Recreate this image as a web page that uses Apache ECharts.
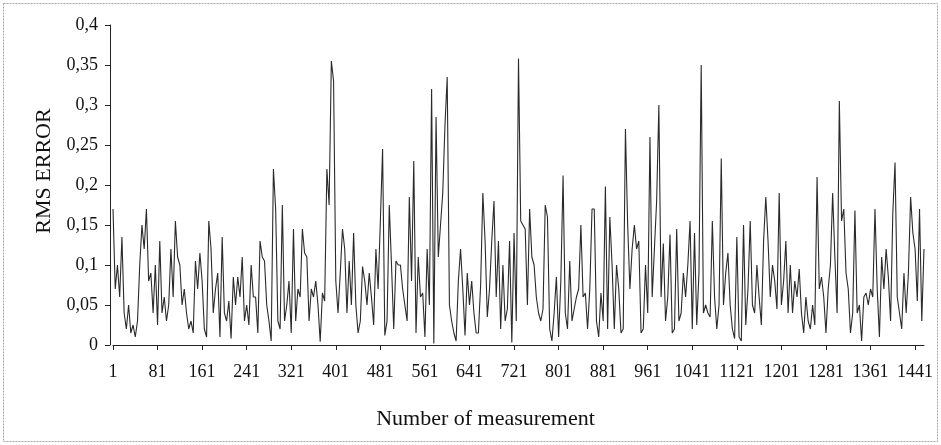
<!DOCTYPE html>
<html>
<head>
<meta charset="utf-8">
<script src="https://cdn.jsdelivr.net/npm/echarts@6/dist/echarts.min.js"></script>
<style>
html,body{margin:0;padding:0;background:#fff;}
#chart{width:941px;height:445px;}
</style>
</head>
<body>
<div id="chart"></div>
<script>
const rmsPart1 = [0.17,0.07,0.1,0.06,0.135,0.04,0.02,0.05,0.015,0.025,
  0.01,0.03,0.1,0.15,0.12,0.17,0.08,0.09,0.04,0.1,
  0.025,0.13,0.04,0.06,0.03,0.05,0.12,0.06,0.155,0.11,
  0.1,0.05,0.07,0.04,0.02,0.03,0.015,0.105,0.07,0.115,
  0.08,0.02,0.01,0.155];
const rmsPart2 = [0.12,0.04,0.07,0.09,0.01,0.135,0.04,0.03,0.055,0.008,
  0.085,0.05,0.085,0.06,0.11,0.03,0.05,0.025,0.1,0.06,
  0.06,0.015,0.13,0.11,0.105,0.05,0.03,0.005,0.22,0.17,
  0.03,0.02,0.175,0.03,0.05,0.08,0.015,0.145,0.03,0.07,
  0.06,0.145,0.115];
const rmsPart3 = [0.11,0.03,0.07,0.06,0.08,0.05,0.004,0.065,0.055,0.22,
  0.175,0.355,0.33,0.08,0.04,0.09,0.145,0.12,0.04,0.105,
  0.05,0.14,0.05,0.015,0.03,0.098,0.08,0.05,0.09,0.06,
  0.025,0.12,0.07,0.155,0.245,0.012,0.03,0.175,0.1,0.02,
  0.105,0.1];
const rmsPart4 = [0.1,0.07,0.05,0.03,0.185,0.08,0.23,0.015,0.11,0.06,
  0.065,0.01,0.12,0.05,0.32,0.002,0.285,0.11,0.15,0.19,
  0.275,0.335,0.05,0.03,0.015,0.005,0.08,0.12,0.07,0.012,
  0.09,0.05,0.08,0.04,0.015,0.015,0.075,0.19,0.13,0.035,
  0.07,0.13,0.18];
const rmsPart5 = [0.06,0.13,0.02,0.1,0.03,0.045,0.13,0.003,0.14,0.03,
  0.358,0.155,0.15,0.145,0.05,0.17,0.11,0.1,0.06,0.04,
  0.03,0.045,0.175,0.16,0.02,0.005,0.04,0.085,0.01,0.08,
  0.212,0.04,0.02,0.105,0.03,0.045,0.06,0.07,0.15,0.06,
  0.065,0.02,0.07];
const rmsPart6 = [0.17,0.17,0.03,0.01,0.065,0.03,0.198,0.02,0.16,0.1,
  0.02,0.1,0.07,0.015,0.02,0.27,0.15,0.07,0.12,0.15,
  0.12,0.13,0.015,0.02,0.1,0.04,0.26,0.06,0.12,0.18,
  0.3,0.06,0.127,0.03,0.06,0.138,0.015,0.02,0.145,0.03,
  0.04,0.09];
const rmsPart7 = [0.06,0.1,0.155,0.02,0.14,0.025,0.09,0.35,0.04,0.05,
  0.04,0.035,0.155,0.06,0.02,0.05,0.233,0.05,0.09,0.115,
  0.05,0.02,0.008,0.135,0.01,0.005,0.15,0.025,0.07,0.155,
  0.05,0.04,0.1,0.06,0.025,0.13,0.185,0.13,0.06,0.1,
  0.08,0.045,0.19];
const rmsPart8 = [0.05,0.08,0.13,0.04,0.1,0.04,0.08,0.06,0.095,0.04,
  0.015,0.06,0.03,0.02,0.05,0.025,0.21,0.07,0.085,0.06,
  0.015,0.07,0.1,0.19,0.11,0.04,0.305,0.155,0.17,0.09,
  0.07,0.015,0.04,0.168,0.04,0.05,0.005,0.06,0.065,0.05,
  0.07,0.06,0.17];
const rmsPart9 = [0.07,0.01,0.11,0.07,0.12,0.085,0.03,0.165,0.228,0.06,
  0.04,0.02,0.09,0.04,0.09,0.185,0.14,0.12,0.055,0.17,
  0.03,0.12];

const xTickLabels = ['1','81','161','241','321','401','481','561','641','721',
  '801','881','961','1041','1121','1201','1281','1361','1441'];
const yTickLabels = ['0','0,05','0,1','0,15','0,2','0,25','0,3','0,35','0,4'];

const rmsValues = [].concat(rmsPart1, rmsPart2, rmsPart3, rmsPart4, rmsPart5,
  rmsPart6, rmsPart7, rmsPart8, rmsPart9);
const SAMPLE_STEP = 4;
const measurementNumbers = rmsValues.map((_, i) => String(1 + SAMPLE_STEP * i));

const FONT = '"Liberation Serif", "Times New Roman", serif';
const showTick = (idx, val) => xTickLabels.indexOf(String(val)) >= 0;

const chart = echarts.init(document.getElementById('chart'), null, {renderer: 'canvas'});
chart.setOption({
  animation: false,
  backgroundColor: '#ffffff',
  grid: {left: 113, right: 17, top: 25, bottom: 100, containLabel: false},
  graphic: [{
    type: 'rect', silent: true,
    shape: {x: 3.5, y: 3.5, width: 934, height: 438},
    style: {fill: 'none', stroke: '#a8a8a8', lineWidth: 1, lineDash: [2, 1]}
  }],
  xAxis: {
    type: 'category',
    data: measurementNumbers,
    boundaryGap: false,
    name: 'Number of measurement',
    nameLocation: 'middle',
    nameGap: 63,
    nameTextStyle: {fontFamily: FONT, fontSize: 22, color: '#111', padding: [0, 66, 0, 0]},
    axisLine: {lineStyle: {color: '#222', width: 1}},
    axisTick: {show: true, interval: showTick, length: 5, lineStyle: {color: '#222'}},
    axisLabel: {interval: showTick, margin: 18, fontFamily: FONT, fontSize: 18, color: '#111'},
    splitLine: {show: false}
  },
  yAxis: {
    type: 'value',
    min: 0, max: 0.4, interval: 0.05,
    offset: 3,
    name: 'RMS ERROR',
    nameLocation: 'middle',
    nameGap: 52,
    nameTextStyle: {fontFamily: FONT, fontSize: 22, color: '#111', padding: [0, 0, 0, 28]},
    axisLine: {show: true, lineStyle: {color: '#222', width: 1}},
    axisTick: {show: true, length: 5, lineStyle: {color: '#222'}},
    axisLabel: {
      margin: 12, fontFamily: FONT, fontSize: 18, color: '#111',
      formatter: (v) => yTickLabels[Math.round(v / 0.05)]
    },
    splitLine: {show: false}
  },
  series: [{
    type: 'line',
    data: rmsValues,
    showSymbol: false,
    symbol: 'none',
    lineStyle: {color: '#2a2a2a', width: 1.1},
    silent: true
  }]
});
</script>
</body>
</html>
